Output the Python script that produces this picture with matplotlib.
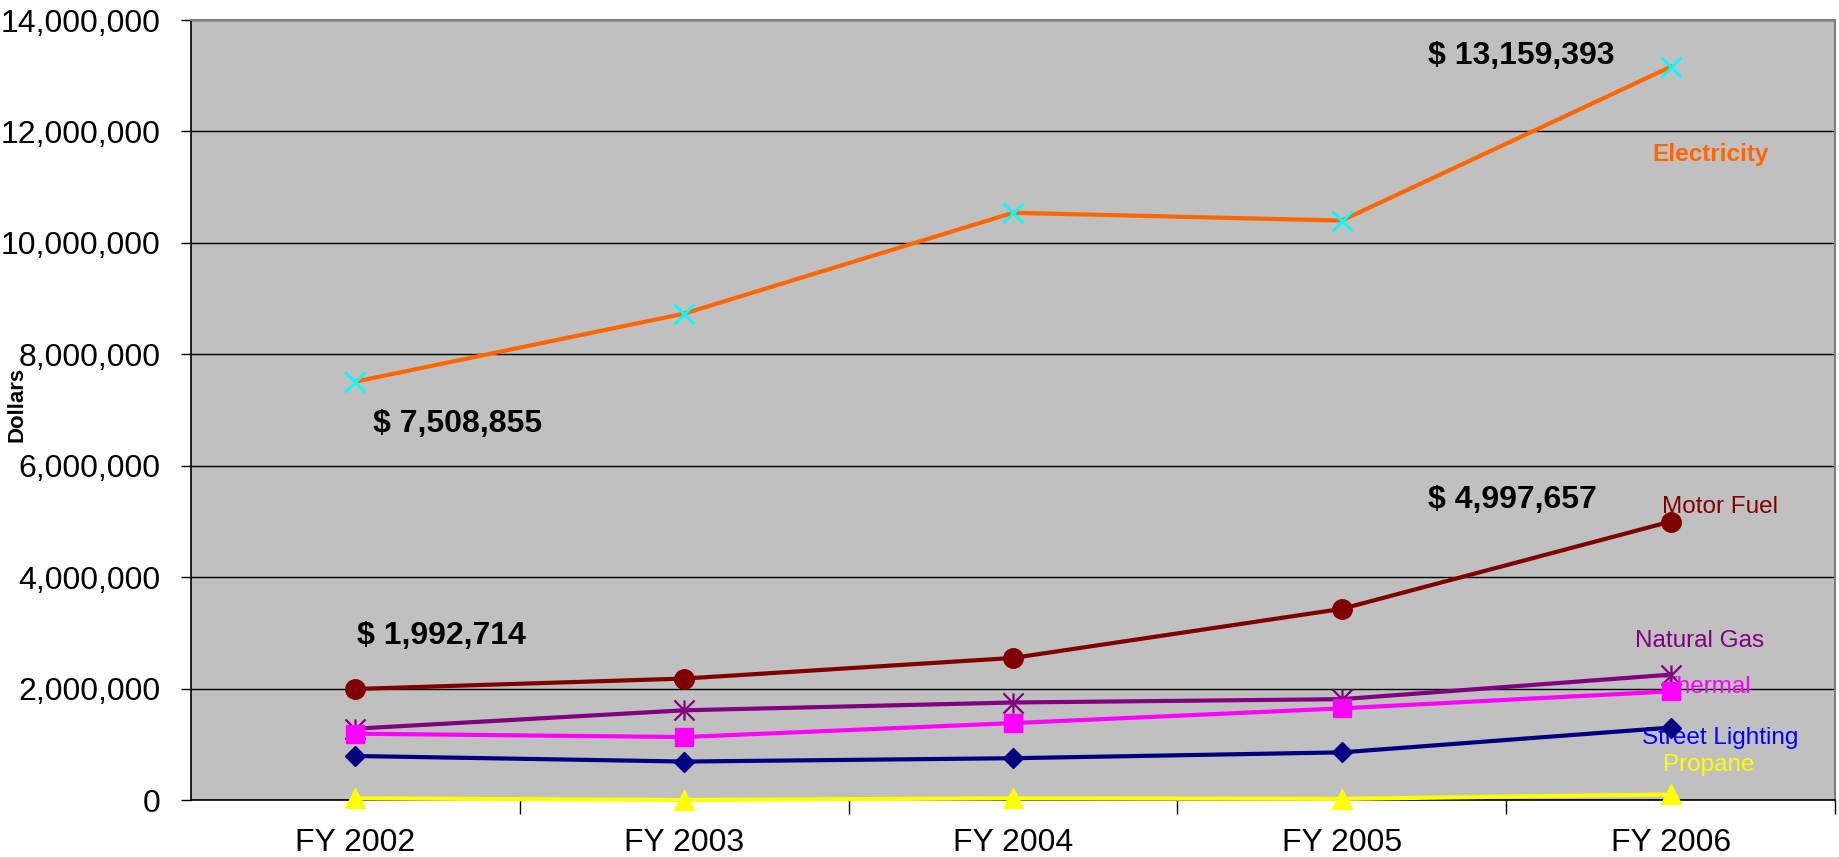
import matplotlib
matplotlib.use("Agg")
import matplotlib.pyplot as plt
from matplotlib.path import Path
from matplotlib.ticker import FuncFormatter, FixedLocator

plt.rcParams['font.family'] = ['Liberation Sans', 'DejaVu Sans']

# donnees
annees = ['FY 2002', 'FY 2003', 'FY 2004', 'FY 2005', 'FY 2006']
electricite = [7508855, 8730000, 10540000, 10400000, 13159393]
carburant = [1992714, 2180000, 2550000, 3430000, 4997657]
gaz_naturel = [1280000, 1610000, 1750000, 1810000, 2250000]
thermique = [1190000, 1130000, 1380000, 1645000, 1950000]
eclairage = [790000, 690000, 750000, 855000, 1300000]
propane = [30000, 0, 30000, 20000, 100000]

# marqueur asterisque facon Excel
asterisque = Path([(-1, -1), (1, 1), (-1, 1), (1, -1), (0, -1), (0, 1)],
                  [Path.MOVETO, Path.LINETO, Path.MOVETO, Path.LINETO, Path.MOVETO, Path.LINETO])

fig = plt.figure(figsize=(18.39, 8.57), dpi=100)
ax = fig.add_axes([191 / 1839, 57 / 857, (1835 - 191) / 1839, 780 / 857])
ax.set_facecolor('#C0C0C0')

x = list(range(len(annees)))
lw = 3.0

ax.plot(x, electricite, color='#FF6600', lw=lw, marker='x', ms=14.5, mec='#00FFFF', mew=2, zorder=5)
ax.plot(x, carburant, color='#800000', lw=lw, marker='o', ms=14, mfc='#800000', mec='#800000', zorder=5)
ax.plot(x, gaz_naturel, color='#800080', lw=lw, marker=asterisque, ms=14.5, mec='#800080', mew=1.6, zorder=5)
ax.plot(x, thermique, color='#FF00FF', lw=lw, marker='s', ms=13.5, mfc='#FF00FF', mec='#FF00FF', zorder=5)
ax.plot(x, eclairage, color='#000080', lw=lw, marker='D', ms=10.5, mfc='#000080', mec='#000080', zorder=5)
ax.plot(x, propane, color='#FFFF00', lw=lw, marker='^', ms=15, mfc='#FFFF00', mec='#FFFF00',
        zorder=5, clip_on=False)

ax.set_xlim(-0.5, len(annees) - 0.5)
ax.set_ylim(0, 14000000)

# axes
ax.yaxis.set_major_locator(FixedLocator(range(0, 14000001, 2000000)))
ax.yaxis.set_major_formatter(FuncFormatter(lambda v, p: f'{int(v):,}'))
ax.tick_params(axis='y', direction='out', length=7, width=1, labelsize=23, pad=15, color='black')
ax.set_xticks(x)
ax.set_xticklabels(annees)
ax.set_xticks([i + 0.5 for i in x], minor=True)
ax.tick_params(axis='x', which='major', length=0, labelsize=23, pad=20)
ax.tick_params(axis='x', which='minor', direction='out', length=10, width=1, color='black')
ax.grid(axis='y', color='black', lw=1, zorder=1)
ax.set_axisbelow(True)

for cote in ['left', 'bottom']:
    ax.spines[cote].set_color('black')
    ax.spines[cote].set_linewidth(1.2)
for cote in ['top', 'right']:
    ax.spines[cote].set_color('#808080')
    ax.spines[cote].set_linewidth(1.5)

fig.text(17 / 1839, 1 - 442 / 857, 'Dollars', rotation=90, fontsize=16, fontweight='bold',
         ha='center', va='bottom')

# etiquettes de valeurs
def etiquette(texte, xi, yi, dx, dy, couleur='black', taille=23, gras=True):
    ax.annotate(texte, (xi, yi), xytext=(dx, dy), textcoords='offset pixels',
                ha='center', va='center', fontsize=taille, color=couleur,
                fontweight='bold' if gras else 'normal', zorder=3)

etiquette(f'$ {electricite[-1]:,}', 4, electricite[-1], -149, 11)
etiquette(f'$ {electricite[0]:,}', 0, electricite[0], 102, -42)
etiquette(f'$ {carburant[-1]:,}', 4, carburant[-1], -158, 22)
etiquette(f'$ {carburant[0]:,}', 0, carburant[0], 86, 53)

etiquette('Electricity', 4, electricite[-1], 40, -88, '#FF6600', 17.5, True)
etiquette('Motor Fuel', 4, carburant[-1], 49, 15, '#800000', 17.5, False)
etiquette('Natural Gas', 4, gaz_naturel[-1], 29, 34, '#800080', 17.5, False)
etiquette('Thermal', 4, thermique[-1], 36, 4, '#FF00FF', 17.5, False)
etiquette('Street Lighting', 4, eclairage[-1], 50, -10, '#0000FF', 17.5, False)
etiquette('Propane', 4, propane[-1], 38, 29, '#FFFF00', 17.5, False)

fig.savefig('out.png', dpi=100, facecolor='white')
